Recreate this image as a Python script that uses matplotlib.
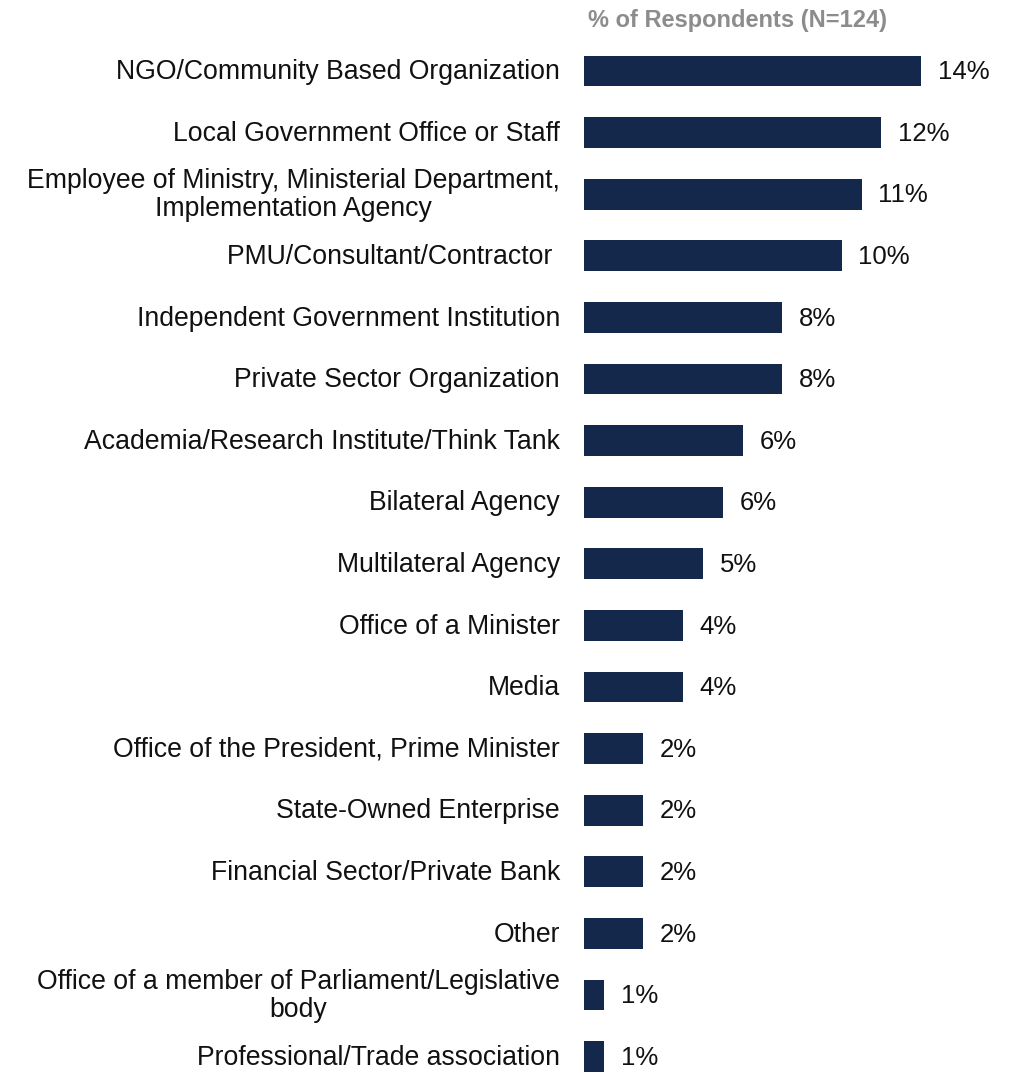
import matplotlib
matplotlib.use("Agg")
import matplotlib.pyplot as plt

plt.rcParams['font.family'] = ['Liberation Sans', 'DejaVu Sans']

categories = [
    "NGO/Community Based Organization",
    "Local Government Office or Staff",
    "Employee of Ministry, Ministerial Department,\nImplementation Agency",
    "PMU/Consultant/Contractor ",
    "Independent Government Institution",
    "Private Sector Organization",
    "Academia/Research Institute/Think Tank",
    "Bilateral Agency",
    "Multilateral Agency",
    "Office of a Minister",
    "Media",
    "Office of the President, Prime Minister",
    "State-Owned Enterprise",
    "Financial Sector/Private Bank",
    "Other",
    "Office of a member of Parliament/Legislative\nbody",
    "Professional/Trade association",
]
respondents = [17, 15, 14, 13, 10, 10, 8, 7, 6, 5, 5, 3, 3, 3, 3, 1, 1]
total_n = 124
percentages = [100.0 * c / total_n for c in respondents]

W, H, DPI = 1017, 1074, 100
fig = plt.figure(figsize=(W / DPI, H / DPI), dpi=DPI)

ax_left = 584
px_per_pct = 24.58
ax = fig.add_axes([ax_left / W, 0, (W - ax_left) / W, 1])
ax.set_xlim(0, (W - ax_left) / px_per_pct)

step = 61.6
top_center = 71
ax.set_ylim(H / step - top_center / step, -top_center / step)

bar_color = "#14284B"
ys = list(range(len(categories)))
ax.barh(ys, percentages, height=0.5, color=bar_color)

for y, p, label in zip(ys, percentages, categories):
    ax.text(p + 0.68, y + 0.02, f"{round(p):.0f}%", va="center", ha="left",
            fontsize=18.5, color="#111111")
    ax.text(-24 / px_per_pct, y + 0.02, label, va="center", ha="right",
            multialignment="center", fontsize=19.2, color="#111111",
            linespacing=1.1, clip_on=False)

ax.set_axis_off()

fig.text(738 / W, 1 - 21 / H, "% of Respondents (N=124)", ha="center",
         va="center", fontsize=17, fontweight="bold", color="#8C8C8C")

fig.savefig("out.png", dpi=DPI)
